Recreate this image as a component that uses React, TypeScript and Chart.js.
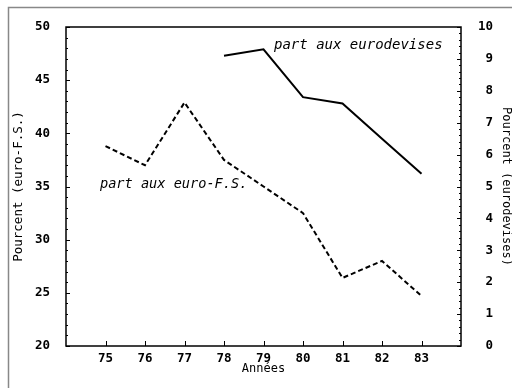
import React, { useEffect, useRef } from "react";
import { Chart, registerables } from "chart.js";

Chart.register(...registerables);

const years = [75, 76, 77, 78, 79, 80, 81, 82, 83];
const euroFS = [38.8, 37.0, 42.9, 37.5, 35.0, 32.5, 26.4, 28.0, 24.7];
const eurodevises = [null, null, null, 9.1, 9.3, 7.8, 7.6, 6.5, 5.4];
const leftTicks = [20, 25, 30, 35, 40, 45, 50];
const rightTicks = [0, 1, 2, 3, 4, 5, 6, 7, 8, 9, 10];
const labelEuroFS = "part aux euro-F.S.";
const labelEurodevises = "part aux eurodevises";
const leftTitle = "Pourcent (euro-F.S.)";
const rightTitle = "Pourcent (eurodevises)";
const xTitle = "Années";

const MONO = "'DejaVu Sans Mono', 'Liberation Mono', monospace";

const decorPlugin = {
  id: "decor",
  afterDraw(chart: any) {
    const { ctx, chartArea: a, scales } = chart;
    const x = scales.x, y = scales.y, y1 = scales.y1;
    ctx.save();
    // outer frame
    ctx.strokeStyle = "#888";
    ctx.lineWidth = 1.5;
    ctx.beginPath();
    ctx.moveTo(8.5, 388);
    ctx.lineTo(8.5, 7.5);
    ctx.lineTo(512, 7.5);
    ctx.stroke();
    // plot frame
    ctx.strokeStyle = "#000";
    ctx.lineWidth = 1.5;
    ctx.strokeRect(a.left, a.top, a.right - a.left, a.bottom - a.top);
    // ticks (inward)
    ctx.lineWidth = 1;
    ctx.beginPath();
    for (let v = 20; v <= 50; v += 1) {
      const py = Math.round(y.getPixelForValue(v)) + 0.5;
      const len = v % 5 === 0 ? 4 : 2;
      ctx.moveTo(a.left, py);
      ctx.lineTo(a.left + len, py);
    }
    for (let i = 0; i <= 50; i++) {
      const v = i * 0.2;
      const py = Math.round(y1.getPixelForValue(v)) + 0.5;
      const len = i % 5 === 0 ? 4 : 2;
      ctx.moveTo(a.right, py);
      ctx.lineTo(a.right - len, py);
    }
    for (const yr of years) {
      const px = Math.round(x.getPixelForValue(yr)) + 0.5;
      ctx.moveTo(px, a.bottom);
      ctx.lineTo(px, a.bottom - 5);
    }
    ctx.stroke();
    // annotations
    ctx.fillStyle = "#000";
    ctx.textBaseline = "middle";
    ctx.textAlign = "left";
    ctx.font = "italic 14px " + MONO;
    ctx.fillText(labelEurodevises, 274, 45);
    ctx.font = "italic 13.6px " + MONO;
    ctx.fillText(labelEuroFS, 100, 184);
    ctx.restore();
  },
};

export default function App() {
  const ref = useRef<HTMLCanvasElement | null>(null);
  useEffect(() => {
    if (!ref.current) return;
    const chart = new Chart(ref.current, {
      type: "line",
      data: {
        datasets: [
          {
            label: labelEuroFS,
            data: years.map((yr, i) => ({ x: yr, y: euroFS[i] })),
            yAxisID: "y",
            borderColor: "#000",
            borderWidth: 2,
            borderDash: [5, 3],
            pointRadius: 0,
            fill: false,
            tension: 0,
          },
          {
            label: labelEurodevises,
            data: years.map((yr, i) => ({ x: yr, y: eurodevises[i] })),
            yAxisID: "y1",
            borderColor: "#000",
            borderWidth: 2,
            pointRadius: 0,
            fill: false,
            tension: 0,
            spanGaps: false,
          },
        ],
      },
      options: {
        animation: false,
        responsive: false,
        layout: { padding: { top: 27, left: 0, right: 0, bottom: 0 } },
        plugins: { legend: { display: false }, tooltip: { enabled: false } },
        scales: {
          x: {
            type: "linear",
            min: 74,
            max: 84,
            afterBuildTicks: (s: any) => {
              s.ticks = years.map((v) => ({ value: v }));
            },
            afterFit: (s: any) => {
              s.height = 42;
            },
            grid: { display: false, drawTicks: false },
            border: { display: false },
            ticks: {
              autoSkip: false,
              maxRotation: 0,
              padding: 5,
              color: "#000",
              font: { family: MONO, size: 12.5, weight: "bold" },
              callback: (v: any) => String(v),
            },
            title: {
              display: true,
              text: xTitle,
              color: "#000",
              padding: { top: 0, bottom: 12 },
              font: { family: MONO, size: 12, lineHeight: 1.2 },
            },
          },
          y: {
            type: "linear",
            position: "left",
            min: 20,
            max: 50,
            afterBuildTicks: (s: any) => {
              s.ticks = leftTicks.map((v) => ({ value: v }));
            },
            afterFit: (s: any) => {
              s.width = 66;
            },
            grid: { display: false, drawTicks: false },
            border: { display: false },
            ticks: {
              padding: 16,
              color: "#000",
              font: { family: MONO, size: 12.5, weight: "bold" },
            },
            title: {
              display: true,
              text: leftTitle,
              color: "#000",
              padding: { top: 11, bottom: 0 },
              font: { family: MONO, size: 12.5, lineHeight: 1.2 },
            },
          },
          y1: {
            type: "linear",
            position: "right",
            min: 0,
            max: 10,
            afterBuildTicks: (s: any) => {
              s.ticks = rightTicks.map((v) => ({ value: v }));
            },
            afterFit: (s: any) => {
              s.width = 51;
            },
            grid: { display: false, drawTicks: false },
            border: { display: false },
            ticks: {
              padding: 17,
              crossAlign: "near",
              color: "#000",
              font: { family: MONO, size: 12.5, weight: "bold" },
              callback: (v: any) => (v < 10 ? " " + v : String(v)),
            },
            title: {
              display: true,
              text: rightTitle,
              color: "#000",
              padding: { top: 0, bottom: 0 },
              font: { family: MONO, size: 12, lineHeight: 1 },
            },
          },
        },
      },
      plugins: [decorPlugin],
    } as any);
    return () => chart.destroy();
  }, []);
  return (
    <div style={{ position: "fixed", left: 0, top: 0, width: 512, height: 388, background: "#fff" }}>
      <canvas ref={ref} width={512} height={388} style={{ width: 512, height: 388, display: "block" }} />
    </div>
  );
}
